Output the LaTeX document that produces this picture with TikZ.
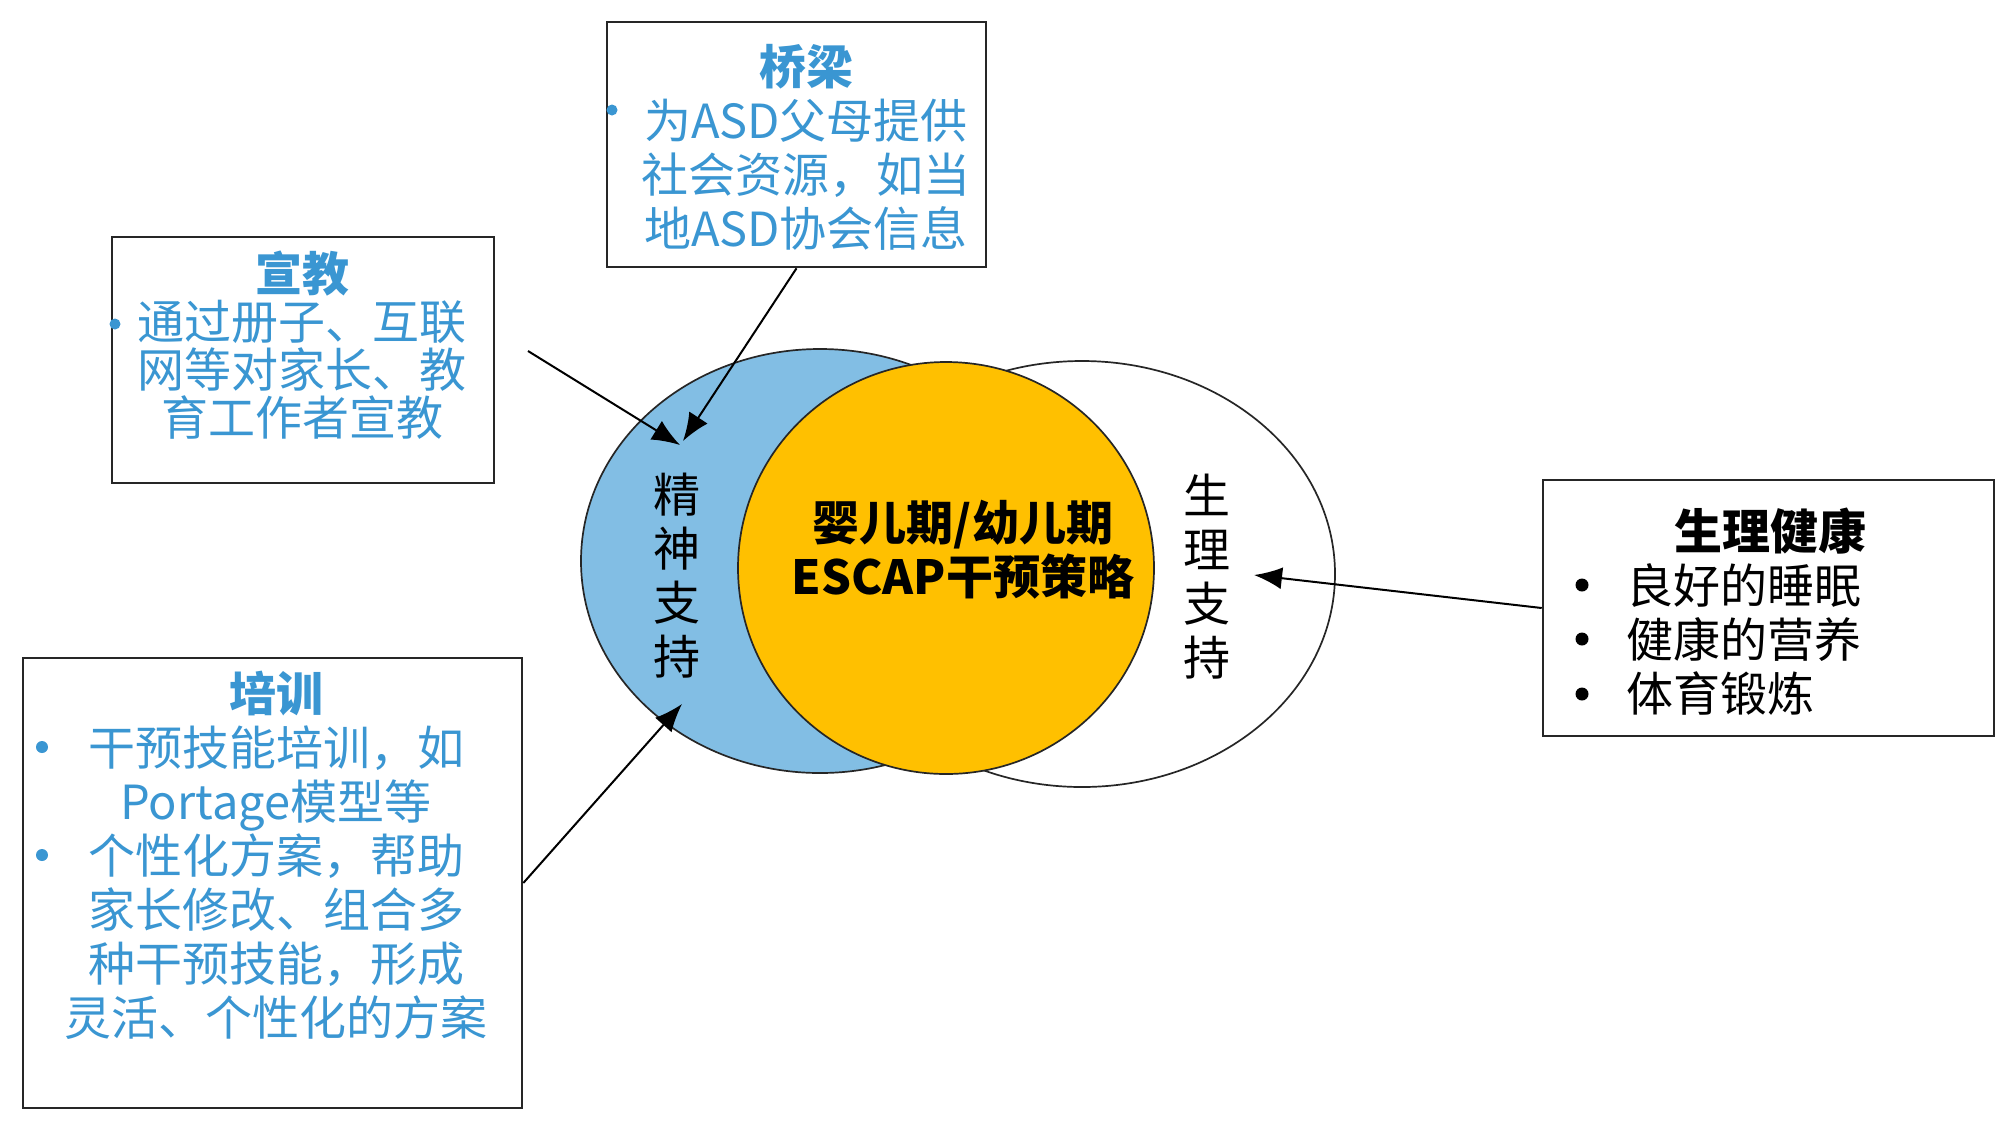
\documentclass[tikz,border=0pt]{standalone}
\usepackage{fontspec}
\usetikzlibrary{shapes.geometric,arrows.meta}
\newfontfamily\cjk{Noto Sans CJK SC}
\definecolor{txtblue}{RGB}{58,150,210}
\definecolor{ellblue}{RGB}{130,190,228}
\definecolor{gold}{RGB}{255,192,0}
\begin{document}
\begin{tikzpicture}[x=0.5pt,y=-0.5pt,
  boxst/.style={draw=black!85, line width=1.3pt, inner sep=0pt},
  ell/.style={ellipse, draw=black!85, line width=0.85pt, inner sep=0pt},
  bluetxt/.style={text=txtblue, font=\cjk\fontsize{23.5pt}{27pt}\selectfont, align=center, inner sep=0pt},
  blacktxt/.style={text=black, font=\cjk\fontsize{23.5pt}{27pt}\selectfont, align=center, inner sep=0pt},
  bluedot/.style={circle, fill=txtblue, inner sep=0pt, minimum size=5.5pt},
  blackdot/.style={circle, fill=black, inner sep=0pt, minimum size=6.5pt},
  arr/.style={-{Latex[length=14pt,width=11pt]}, line width=1pt, black},
]
\fill[white] (0,0) rectangle (2000,1142);
\useasboundingbox (0,0) rectangle (2000,1142);

% ellipses
\node[ell, fill=white, minimum width=253pt, minimum height=213pt] (whiteell) at (1082,574) {};
\node[ell, fill=ellblue, minimum width=239pt, minimum height=212pt] (blueell) at (820,561) {};
\node[ell, fill=gold, minimum width=208pt, minimum height=206pt] (goldell) at (946,568) {};

% boxes
\node[boxst, minimum width=189.5pt, minimum height=122.5pt] (qlbox) at (796.5,144.5) {};
\node[boxst, minimum width=191pt, minimum height=123pt] (xjbox) at (303,360) {};
\node[boxst, minimum width=249.5pt, minimum height=225pt] (pxbox) at (272.5,883) {};
\node[boxst, minimum width=225.5pt, minimum height=128pt] (slbox) at (1768.5,608) {};

% box texts
\node[bluetxt] (qltxt) at (806,147) {{\bfseries 桥梁}\\为ASD父母提供\\社会资源，如当\\地ASD协会信息};
\node[bluedot] (qldot) at (612,110) {};

\node[bluetxt, font=\cjk\fontsize{23.5pt}{24pt}\selectfont] (xjtxt) at (302,345) {{\bfseries 宣教}\\通过册子、互联\\网等对家长、教\\育工作者宣教};
\node[bluedot] (xjdot) at (115,324) {};

\node[bluetxt] (pxtxt) at (276,855) {{\bfseries 培训}\\干预技能培训，如\\Portage模型等\\个性化方案，帮助\\家长修改、组合多\\种干预技能，形成\\灵活、个性化的方案};
\node[bluedot, minimum size=6pt] (pxdot1) at (42,747) {};
\node[bluedot, minimum size=6pt] (pxdot2) at (42,855) {};

\node[blacktxt, font=\cjk\bfseries\fontsize{24pt}{27pt}\selectfont] (sltitle) at (1770,531) {生理健康};
\node[blacktxt, anchor=west, align=left] (slitems) at (1626,639) {良好的睡眠\\健康的营养\\体育锻炼};
\node[blackdot] (sldot1) at (1582,585) {};
\node[blackdot] (sldot2) at (1582,639) {};
\node[blackdot] (sldot3) at (1582,694) {};

% ellipse texts
\node[blacktxt, font=\cjk\bfseries\fontsize{23.5pt}{27pt}\selectfont] (ctr) at (963,550) {婴儿期/幼儿期\\ESCAP干预策略};
\node[blacktxt] (jszc) at (677,576) {精\\神\\支\\持};
\node[blacktxt] (slzc) at (1207,577) {生\\理\\支\\持};

% arrows
\coordinate (a1s) at (528,351);
\coordinate (a1e) at (680,445);
\coordinate (a2e) at (683,441);
\coordinate (a3e) at (682,704);
\coordinate (a4e) at (1254,575);
\draw[arr] (a1s) -- (a1e);
\draw[arr] (qlbox.south) -- (a2e);
\draw[arr] (pxbox.east) -- (a3e);
\draw[arr] (slbox.west) -- (a4e);
\end{tikzpicture}
\end{document}
